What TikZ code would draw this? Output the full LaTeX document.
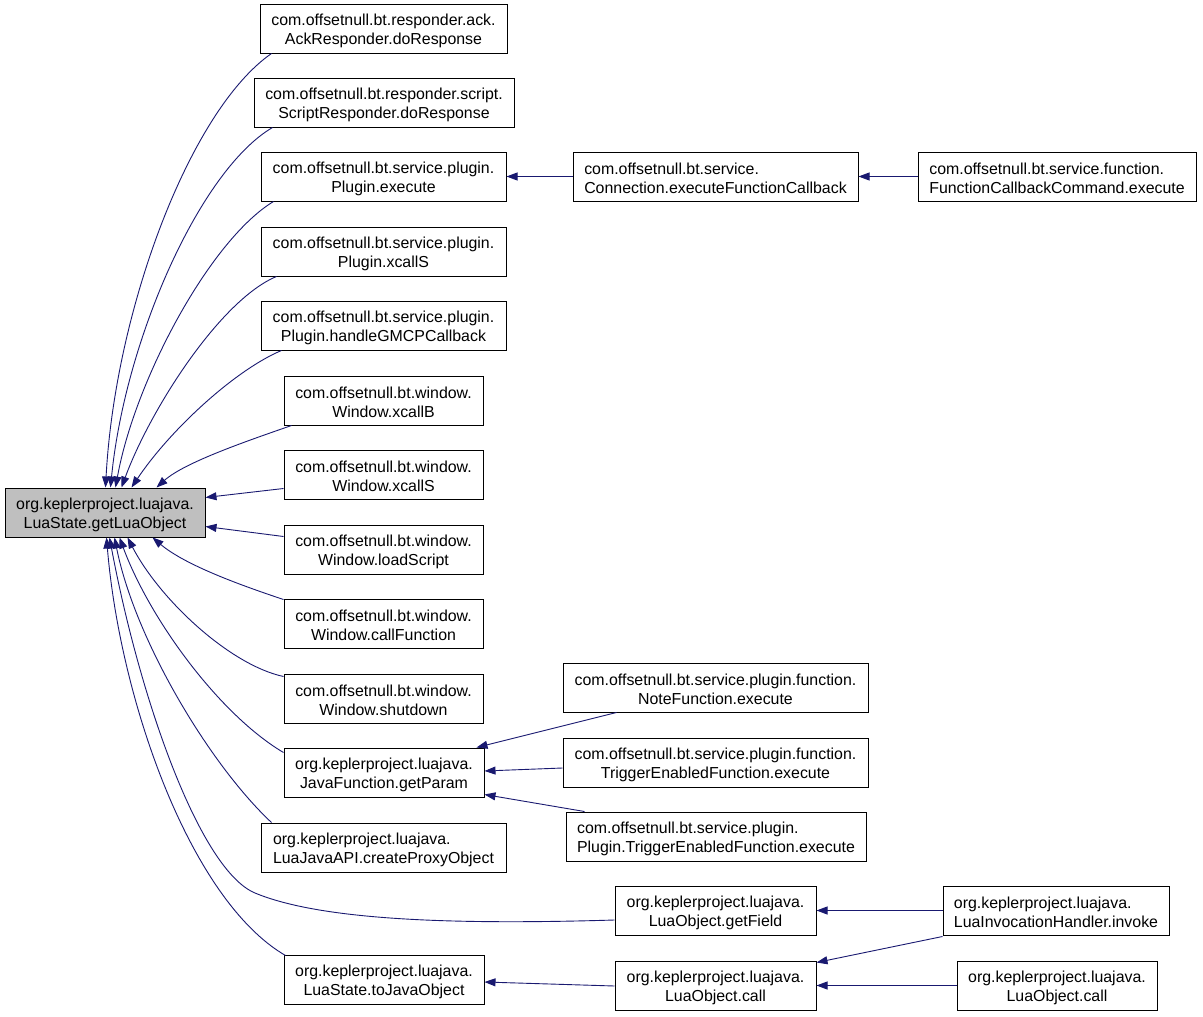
\documentclass[tikz,border=0pt]{standalone}
\usepackage{fontspec}
\setmainfont{Liberation Sans}
\usetikzlibrary{arrows.meta,calc}
\definecolor{edgeblue}{HTML}{191970}
\definecolor{maingray}{HTML}{BFBFBF}
\newcommand\tstrut{\rule{0pt}{15.6pt}}
\begin{document}
\begin{tikzpicture}[x=1pt,y=-1pt,
  box/.style={draw=black, line width=1pt, fill=white, inner sep=0pt, minimum height=49pt,
              font=\fontsize{15.9}{19}\selectfont},
  boxc/.style={box, align=center},
  boxl/.style={box, align=left},
  edge/.style={draw=edgeblue, line width=0.9pt, -{Triangle[length=11pt,width=8pt]}}]
\useasboundingbox (0,0) rectangle (1203,1017);

% nodes
\node[boxc, fill=maingray, minimum width=200pt] (main) at (105,512.5) {\tstrut org.keplerproject.luajava.\\LuaState.getLuaObject};
\node[boxc, minimum width=247pt] (ack) at (383.5,28.5) {\tstrut com.offsetnull.bt.responder.ack.\\AckResponder.doResponse};
\node[boxc, minimum width=260pt] (script) at (384,102.5) {\tstrut com.offsetnull.bt.responder.script.\\ScriptResponder.doResponse};
\node[boxc, minimum width=245pt] (pexec) at (383.5,176.5) {\tstrut com.offsetnull.bt.service.plugin.\\Plugin.execute};
\node[boxl, minimum width=285pt] (conn) at (715.5,176.5) {\tstrut com.offsetnull.bt.service.\\Connection.executeFunctionCallback};
\node[boxl, minimum width=278pt] (fcc) at (1057,176.5) {\tstrut com.offsetnull.bt.service.function.\\FunctionCallbackCommand.execute};
\node[boxc, minimum width=245pt] (pxcalls) at (383.5,251.5) {\tstrut com.offsetnull.bt.service.plugin.\\Plugin.xcallS};
\node[boxc, minimum width=245pt] (pgmcp) at (383.5,325.5) {\tstrut com.offsetnull.bt.service.plugin.\\Plugin.handleGMCPCallback};
\node[boxc, minimum width=199pt] (wxcallb) at (383.5,400.5) {\tstrut com.offsetnull.bt.window.\\Window.xcallB};
\node[boxc, minimum width=199pt] (wxcalls) at (383.5,474.5) {\tstrut com.offsetnull.bt.window.\\Window.xcallS};
\node[boxc, minimum width=199pt] (wload) at (383.5,549.5) {\tstrut com.offsetnull.bt.window.\\Window.loadScript};
\node[boxc, minimum width=199pt] (wcall) at (383.5,623.5) {\tstrut com.offsetnull.bt.window.\\Window.callFunction};
\node[boxc, minimum width=199pt] (wshut) at (383.5,698.5) {\tstrut com.offsetnull.bt.window.\\Window.shutdown};
\node[boxc, minimum width=200pt] (getparam) at (384,772.5) {\tstrut org.keplerproject.luajava.\\JavaFunction.getParam};
\node[boxc, minimum width=305pt] (note) at (715.5,687.5) {\tstrut com.offsetnull.bt.service.plugin.function.\\NoteFunction.execute};
\node[boxc, minimum width=305pt] (trig) at (715.5,762.5) {\tstrut com.offsetnull.bt.service.plugin.function.\\TriggerEnabledFunction.execute};
\node[boxl, minimum width=300pt] (ptrig) at (716,836.5) {\tstrut com.offsetnull.bt.service.plugin.\\Plugin.TriggerEnabledFunction.execute};
\node[boxl, minimum width=245pt] (proxy) at (383.5,847.5) {\tstrut org.keplerproject.luajava.\\LuaJavaAPI.createProxyObject};
\node[boxc, minimum width=201pt] (getfield) at (715.5,910.5) {\tstrut org.keplerproject.luajava.\\LuaObject.getField};
\node[boxl, minimum width=226pt] (invoke) at (1056,910.5) {\tstrut org.keplerproject.luajava.\\LuaInvocationHandler.invoke};
\node[boxc, minimum width=200pt] (tojava) at (384,979.5) {\tstrut org.keplerproject.luajava.\\LuaState.toJavaObject};
\node[boxc, minimum width=201pt] (call1) at (715.5,985.5) {\tstrut org.keplerproject.luajava.\\LuaObject.call};
\node[boxc, minimum width=200pt] (call2) at (1057,985.5) {\tstrut org.keplerproject.luajava.\\LuaObject.call};

% edges into main (top)
\draw[edge] ($(ack.south west)+(12,0)$) .. controls (190,110) and (115,310) .. ($(main.north west)+(101,0)$);
\draw[edge] ($(script.south west)+(19,0)$) .. controls (200,170) and (125,340) .. ($(main.north west)+(106,0)$);
\draw[edge] ($(pexec.south west)+(13,0)$) .. controls (210,240) and (135,380) .. ($(main.north west)+(111,0)$);
\draw[edge] ($(pxcalls.south west)+(16,0)$) .. controls (220,300) and (150,410) .. ($(main.north west)+(117,0)$);
\draw[edge] ($(pgmcp.south west)+(21,0)$) .. controls (235,370) and (170,430) .. ($(main.north west)+(127,0)$);
\draw[edge] ($(wxcallb.south west)+(8,0)$) .. controls (250,440) and (185,462) .. ($(main.north west)+(152,0)$);
% edges into main (right side)
\draw[edge] ($(wxcalls.north west)+(0,39)$) -- ($(main.north east)+(0,10)$);
\draw[edge] ($(wload.north west)+(0,12)$) -- ($(main.north east)+(0,39)$);
% edges into main (bottom)
\draw[edge] ($(wcall.north west)+(0,1)$) .. controls (240,585) and (185,565) .. ($(main.south west)+(148,0)$);
\draw[edge] ($(wshut.north west)+(0,3)$) .. controls (230,665) and (160,600) .. ($(main.south west)+(123,0)$);
\draw[edge] ($(getparam.north west)+(0,5)$) .. controls (220,715) and (150,620) .. ($(main.south west)+(115,0)$);
\draw[edge] ($(proxy.north west)+(11,0)$) .. controls (210,765) and (135,640) .. ($(main.south west)+(110,0)$);
\draw[edge] ($(getfield.west)+(0,9.5)$) .. controls (450,925) and (320,920) .. (255,893)
            .. controls (200,870) and (140,700) .. ($(main.south west)+(105,0)$);
\draw[edge] ($(tojava.north west)+(2,1)$) .. controls (190,900) and (120,700) .. ($(main.south west)+(102,0)$);

% other edges
\draw[edge] (conn.west) -- (pexec.east);
\draw[edge] (fcc.west) -- (conn.east);
\draw[edge] ($(note.south west)+(54,0)$) -- ($(getparam.north east)+(-8,0)$);
\draw[edge] ($(trig.west)+(0,5.5)$) -- ($(getparam.east)+(0,-1.5)$);
\draw[edge] ($(ptrig.north west)+(19,0)$) -- ($(getparam.south east)+(0,-3)$);
\draw[edge] (invoke.west) -- (getfield.east);
\draw[edge] ($(invoke.south west)+(0,1)$) -- ($(call1.north east)+(0,2)$);
\draw[edge] (call2.west) -- (call1.east);
\draw[edge] ($(call1.west)+(0,0.5)$) -- ($(tojava.east)+(0,2.5)$);
\end{tikzpicture}
\end{document}
